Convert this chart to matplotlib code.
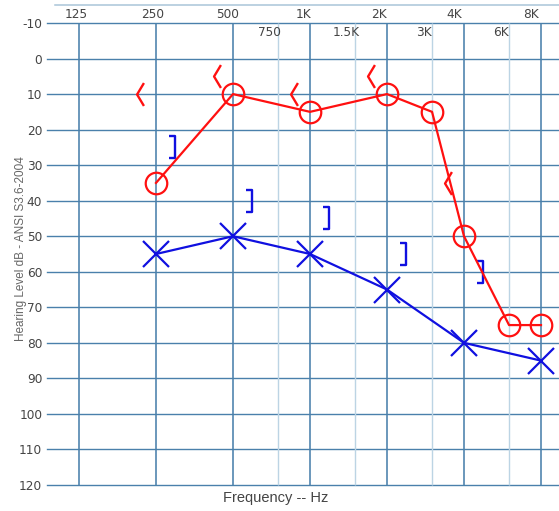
import numpy as np
import matplotlib
matplotlib.use("Agg")
import matplotlib.pyplot as plt
from matplotlib.path import Path

# frequency grid (Hz) and labels
freqs_main = [125, 250, 500, 1000, 2000, 4000, 8000]
labels_main = ['125', '250', '500', '1K', '2K', '4K', '8K']
freqs_mid = [750, 1500, 3000, 6000]
labels_mid = ['750', '1.5K', '3K', '6K']
db_ticks = list(range(-10, 130, 10))

# right ear air conduction (O)
right_ac_f = [250, 500, 1000, 2000, 3000, 4000, 6000, 8000]
right_ac_db = [35, 10, 15, 10, 15, 50, 75, 75]
# left ear air conduction (X)
left_ac_f = [250, 500, 1000, 2000, 4000, 8000]
left_ac_db = [55, 50, 55, 65, 80, 85]
# right ear bone conduction (<)
right_bc_f = [250, 500, 1000, 2000, 4000]
right_bc_db = [10, 5, 10, 5, 35]
# left ear bone conduction (])
left_bc_f = [250, 500, 1000, 2000, 4000]
left_bc_db = [25, 40, 45, 55, 60]

GRID = '#4a80ab'
GRID_LIGHT = '#bcd4e4'
RED = '#ff1010'
BLUE = '#1010e0'
TXT = '#444444'

def oct_(f):
    return np.log2(np.asarray(f, dtype=float) / 125.0)

# marker shapes
bracket = Path([(-0.3, 1), (0.3, 1), (0.3, -1), (-0.3, -1)],
               [Path.MOVETO, Path.LINETO, Path.LINETO, Path.LINETO])
chevron = Path([(0.3, 1), (-0.3, 0), (0.3, -1)],
               [Path.MOVETO, Path.LINETO, Path.LINETO])

W, H = 559, 511
fig = plt.figure(figsize=(W / 100, H / 100), dpi=100)
ax = fig.add_axes([45 / W, 1 - 490 / H, (W - 45) / W, (490 - 3) / H])
px_oct = 77.0
px_db = 3.554
ax.set_xlim(-34 / px_oct, (W - 79) / px_oct)
ax.set_ylim(120 + 5 / px_db, -10 - 20 / px_db)
for s in ax.spines.values():
    s.set_visible(False)

# grid
x_h0 = -32 / px_oct
for d in db_ticks:
    ax.plot([x_h0, 7], [d, d], color=GRID, lw=1.0, zorder=1, clip_on=False)
ax.vlines(oct_(freqs_mid), -10, 120, color=GRID_LIGHT, lw=1.0, zorder=1)
ax.vlines(oct_(freqs_main), -10, 120, color=GRID, lw=1.15, zorder=1)
ax.plot([-24 / px_oct, 7], [-15.06, -15.06], color='#a9c5d8', lw=1.1, zorder=1)

# frequency labels
for i, (f, lab) in enumerate(zip(freqs_main, labels_main)):
    shift = -0.03 - 0.02 * min(i, 5)
    ax.text(oct_(f) + shift, -12.4, lab, ha='center', va='center',
            fontsize=8.7, color=TXT)
for f, lab in zip(freqs_mid, labels_mid):
    ax.text(oct_(f) - 0.11, -7.2, lab, ha='center', va='center',
            fontsize=8.7, color=TXT)

ax.set_xticks([])
ax.set_yticks(db_ticks)
ax.set_yticklabels([str(d) for d in db_ticks], fontsize=8.7, color=TXT)
ax.tick_params(axis='y', length=0, pad=2)

# left ear
ax.plot(oct_(left_ac_f), left_ac_db, color=BLUE, lw=1.6, marker='x',
        ms=18.5, mew=1.6, zorder=3)
ax.plot(oct_(left_bc_f) + 0.21, left_bc_db, ls='none', marker=bracket,
        ms=16.5, mew=1.7, mec=BLUE, mfc='none', zorder=3)

# right ear
ax.plot(oct_(right_ac_f), right_ac_db, color=RED, lw=1.6, marker='o',
        ms=15.5, mew=1.6, mfc='none', zorder=4)
ax.plot(oct_(right_bc_f) - 0.21, right_bc_db, ls='none', marker=chevron,
        ms=16.5, mew=1.7, mec=RED, mfc='none', zorder=4)

fig.text(21 / W, 1 - 249 / H, 'Hearing Level dB - ANSI S3.6-2004',
         rotation=90, ha='center', va='center', fontsize=8.5,
         family='Liberation Sans', color='#666666')
fig.text(276 / W, 1 - 498 / H, 'Frequency -- Hz', ha='center', va='center',
         fontsize=10.5, family='Liberation Sans', color=TXT)

fig.savefig('out.png', dpi=100)
